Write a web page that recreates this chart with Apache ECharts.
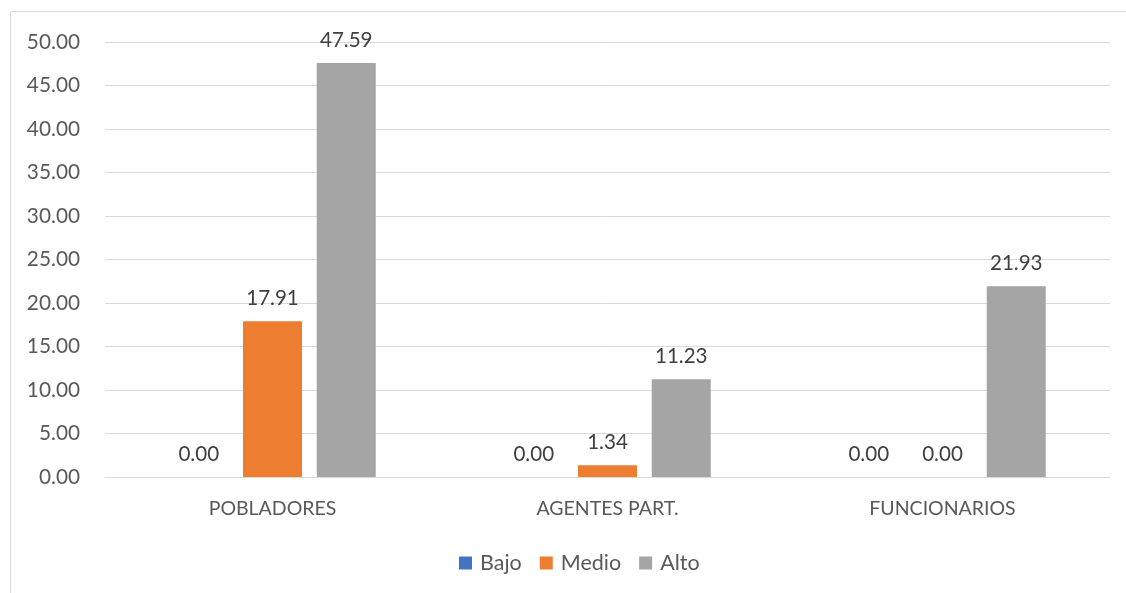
<!DOCTYPE html>
<html>
<head>
<meta charset="utf-8">
<script src="https://cdn.jsdelivr.net/npm/echarts@6/dist/echarts.min.js"></script>
<style>html,body{margin:0;padding:0;background:#fff;}#c{width:1126px;height:593px;}</style>
</head>
<body>
<div id="c"></div>
<script>
const categories = ['POBLADORES', 'AGENTES PART.', 'FUNCIONARIOS'];
const seriesNames = ['Bajo', 'Medio', 'Alto'];
const bajo = [0.00, 0.00, 0.00];
const medio = [17.91, 1.34, 0.00];
const alto = [47.59, 11.23, 21.93];
const colors = ['#4472C4', '#ED7D31', '#A5A5A5'];
const FONT = 'Lato, "Open Sans", sans-serif';

const chart = echarts.init(document.getElementById('c'));
const values = [bajo, medio, alto];
chart.setOption({
  animation: false,
  textStyle: { fontFamily: FONT },
  graphic: [{
    type: 'rect', shape: { x: 10.5, y: 11.5, width: 1140, height: 620 },
    style: { fill: 'none', stroke: '#d9d9d9', lineWidth: 1 }, z: -1, silent: true
  }],
  grid: { left: 105, right: 16, top: 42, bottom: 116 },
  legend: {
    top: 547, left: 454, itemWidth: 13, itemHeight: 13, itemGap: 18,
    icon: 'rect',
    textStyle: { fontFamily: FONT, fontSize: 21.5, color: '#595959', padding: [0, 0, 0, 3] },
    data: seriesNames
  },
  xAxis: {
    type: 'category', data: categories,
    axisTick: { show: false },
    axisLine: { lineStyle: { color: '#d9d9d9', width: 1 } },
    axisLabel: { fontFamily: FONT, fontSize: 19.5, color: '#595959', margin: 22 }
  },
  yAxis: {
    type: 'value', min: 0, max: 50, interval: 5,
    axisLabel: { fontFamily: FONT, fontSize: 20.8, color: '#595959', margin: 25,
      formatter: v => v.toFixed(2) },
    splitLine: { lineStyle: { color: '#d9d9d9', width: 1 } },
    axisLine: { show: false }, axisTick: { show: false }
  },
  series: seriesNames.map((n, i) => ({
    name: n, type: 'bar', data: values[i], barWidth: 59, barGap: '25%',
    itemStyle: { color: colors[i] },
    label: { show: true, position: 'top', distance: 12, fontFamily: FONT, fontSize: 20.6,
      color: '#404040', formatter: p => p.value.toFixed(2) }
  }))
});
</script>
</body>
</html>
